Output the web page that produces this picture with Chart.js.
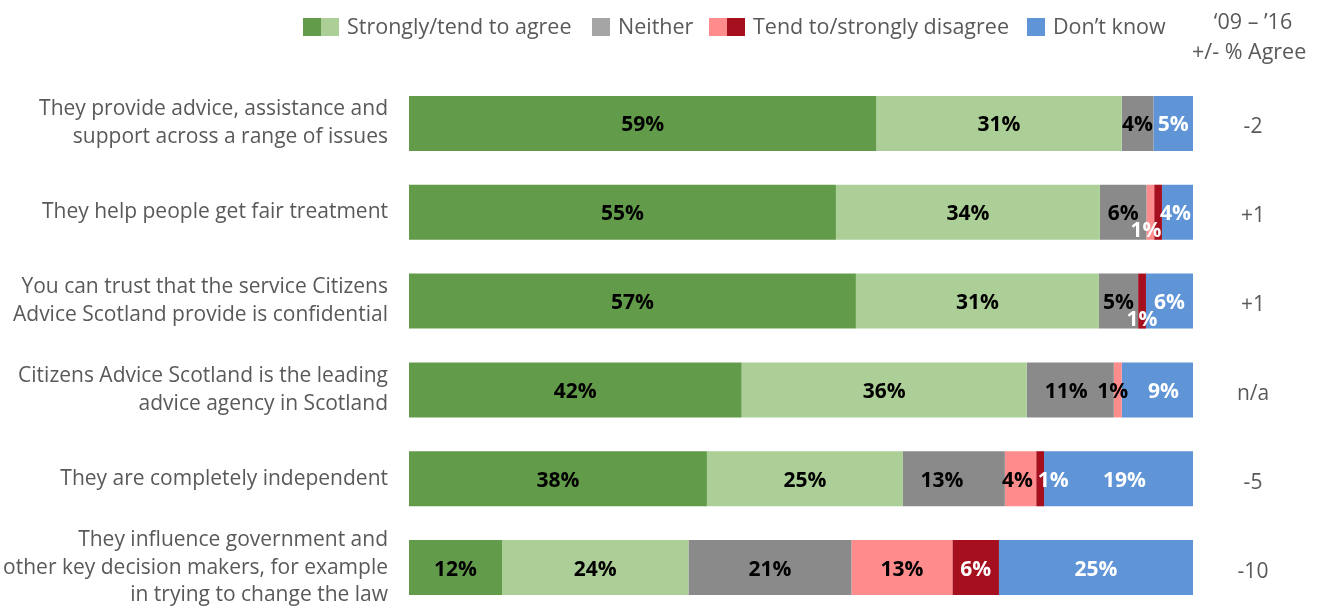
<!DOCTYPE html>
<html>
<head>
<meta charset="utf-8">
<script src="https://cdn.jsdelivr.net/npm/chart.js@4.4.1/dist/chart.umd.min.js"></script>
<style>
html, body { margin: 0; padding: 0; background: #fff; }
#wrap { position: relative; width: 1328px; height: 612px; }
</style>
</head>
<body>
<div id="wrap"><canvas id="grafico" width="1328" height="612"></canvas></div>
<script>
// statements (y axis)
const statements = [
    ["They provide advice, assistance and", "support across a range of issues"],
    ["They help people get fair treatment"],
    ["You can trust that the service Citizens", "Advice Scotland provide is confidential"],
    ["Citizens Advice Scotland is the leading", "advice agency in Scotland"],
    ["They are completely independent"],
    ["They influence government and", "other key decision makers, for example", "in trying to change the law"]
];

// % per answer, as printed on the bars
const stronglyAgree    = [59, 55, 57, 42, 38, 12];
const tendAgree        = [31, 34, 31, 36, 25, 24];
const neither          = [4, 6, 5, 11, 13, 21];
const tendDisagree     = [0, 1, 0, 1, 4, 13];
const stronglyDisagree = [0, 1, 1, 0, 1, 6];
const dontKnow         = [5, 4, 6, 9, 19, 25];

// '09 - '16 change in % agree
const changeAgree = ["-2", "+1", "+1", "n/a", "-5", "-10"];

const textColor = "#595959";
const fontFam = "'Open Sans', 'Noto Sans', sans-serif";

const series = [
    { label: "Strongly agree", values: stronglyAgree, color: "#629b49", text: "#000" },
    { label: "Tend to agree", values: tendAgree, color: "#abcf96", text: "#000" },
    { label: "Neither", values: neither, color: "#8a8a8a", text: "#000" },
    { label: "Tend to disagree", values: tendDisagree, color: "#ff8c8c", text: "#000" },
    { label: "Strongly disagree", values: stronglyDisagree, color: "#a50f1e", text: "#fff" },
    { label: "Don't know", values: dontKnow, color: "#5f94d6", text: "#fff" }
];

// rows are scaled to fill 100% (printed figures are rounded)
const rowTotals = statements.map((s, i) => series.reduce((a, d) => a + d.values[i], 0));

// small label moves for crowded segments: "dataset-row": [dx, dy] or null to hide
const labelNudge = {
    "3-1": null,
    "4-1": [-12, 17],
    "5-1": [-2, 0],
    "4-2": [0, 17],
    "2-3": [-4, 0],
    "3-3": [-5, 0],
    "5-3": [6, 0],
    "2-4": [-12, 0],
    "3-4": [-3, 0],
    "4-4": [13, 0],
    "5-4": [6, 0]
};

const barLabels = {
    id: "barLabels",
    afterDatasetsDraw(chart) {
        const ctx = chart.ctx;
        ctx.save();
        ctx.font = "bold 21px " + fontFam;
        ctx.textAlign = "center";
        ctx.textBaseline = "middle";
        chart.data.datasets.forEach((ds, di) => {
            chart.getDatasetMeta(di).data.forEach((bar, i) => {
                const v = series[di].values[i];
                if (!v) return;
                const key = di + "-" + i;
                let nd = [0, 0];
                if (key in labelNudge) {
                    if (labelNudge[key] === null) return;
                    nd = labelNudge[key];
                }
                ctx.fillStyle = series[di].text;
                ctx.fillText(v + "%", (bar.x + bar.base) / 2 + nd[0], bar.y + 2 + nd[1]);
            });
        });
        ctx.restore();
    }
};

const sideBits = {
    id: "sideBits",
    afterDraw(chart) {
        const ctx = chart.ctx;
        const y = chart.scales.y;
        ctx.save();
        ctx.font = "21px " + fontFam;
        ctx.fillStyle = textColor;
        ctx.textBaseline = "middle";

        // change column
        ctx.textAlign = "center";
        changeAgree.forEach((c, i) => {
            ctx.fillText(c, 1253, y.getPixelForValue(i) + 4);
        });

        // header
        ctx.font = "21.5px " + fontFam;
        ctx.fillText("\u201809 \u2013 \u201916", 1253, 23);
        ctx.textAlign = "left";
        ctx.fillText("+/- % Agree", 1192, 53);

        // legend
        const items = [
            { colors: ["#629b49", "#abcf96"], text: "Strongly/tend to agree", x: 303 },
            { colors: ["#a5a5a5"], text: "Neither", x: 592 },
            { colors: ["#ff8c8c", "#a50f1e"], text: "Tend to/strongly disagree", x: 709 },
            { colors: ["#5f94d6"], text: "Don\u2019t know", x: 1027 }
        ];
        items.forEach(it => {
            let x = it.x;
            it.colors.forEach(c => {
                ctx.fillStyle = c;
                ctx.fillRect(x, 18, 18, 18);
                x += 18;
            });
            ctx.fillStyle = textColor;
            ctx.fillText(it.text, x + 8, 28);
        });
        ctx.restore();
    }
};

window.onload = () => {
    const ctx = document.getElementById("grafico").getContext("2d");

    new Chart(ctx, {
        type: "bar",
        data: {
            labels: statements,
            datasets: series.map(s => ({
                label: s.label,
                data: s.values.map((v, i) => v / rowTotals[i] * 100),
                backgroundColor: s.color,
                borderWidth: 0,
                barPercentage: 1,
                categoryPercentage: 0.62
            }))
        },
        options: {
            indexAxis: "y",
            responsive: false,
            animation: false,
            layout: { padding: { top: 79, right: 135, left: 0, bottom: 0 } },
            plugins: {
                legend: { display: false },
                tooltip: { enabled: false }
            },
            scales: {
                x: { stacked: true, min: 0, max: 100, display: false },
                y: {
                    stacked: true,
                    grid: { display: false },
                    border: { display: false },
                    ticks: {
                        color: textColor,
                        padding: 13,
                        font: { size: 21, family: fontFam, lineHeight: 1.33 }
                    },
                    afterFit(scale) {
                        scale.width = 409;
                        scale.paddingTop = 0;
                        scale.paddingBottom = 0;
                    }
                }
            }
        },
        plugins: [barLabels, sideBits]
    });
};
</script>
</body>
</html>
